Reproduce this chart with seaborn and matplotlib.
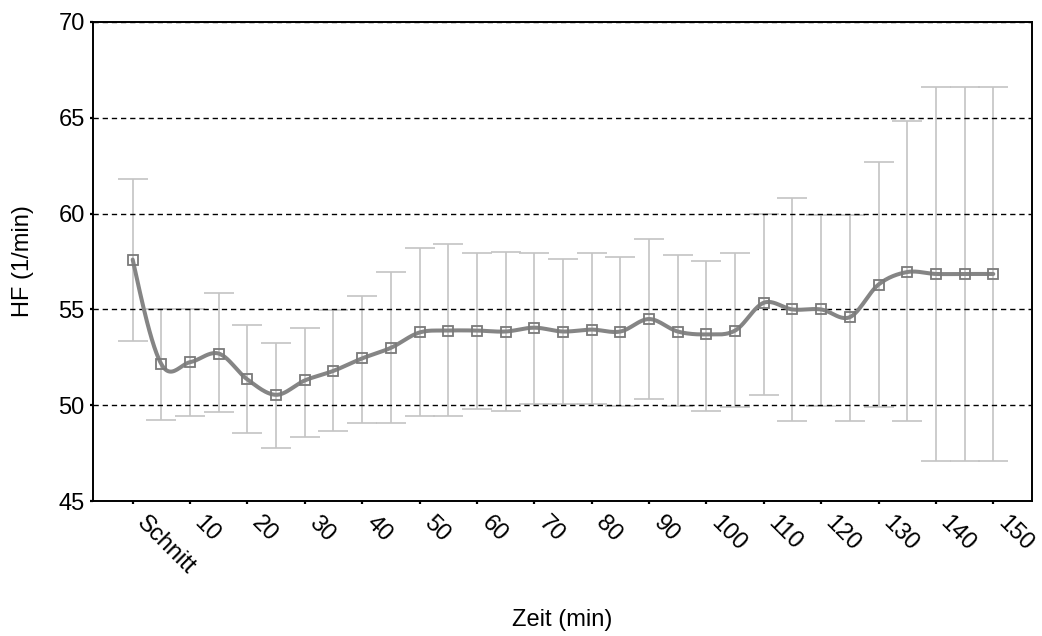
import numpy as np
import pandas as pd
import matplotlib
matplotlib.use("Agg")
import matplotlib.pyplot as plt
import seaborn as sns

# ---------------- data ----------------
time_min = [0, 5, 10, 15, 20, 25, 30, 35, 40, 45, 50, 55, 60, 65, 70, 75,
            80, 85, 90, 95, 100, 105, 110, 115, 120, 125, 130, 135, 140, 145, 150]
tick_positions = [0, 10, 20, 30, 40, 50, 60, 70, 80, 90, 100, 110, 120, 130, 140, 150]
tick_labels = ["Schnitt", "10", "20", "30", "40", "50", "60", "70", "80", "90",
               "100", "110", "120", "130", "140", "150"]
hf_mean = [57.6, 52.15, 52.25, 52.7, 51.35, 50.55, 51.3, 51.8, 52.45, 53.0,
           53.8, 53.9, 53.9, 53.85, 54.05, 53.85, 53.95, 53.85, 54.5, 53.85,
           53.7, 53.9, 55.35, 55.0, 55.0, 54.6, 56.3, 56.95, 56.85, 56.85, 56.85]
hf_upper = [61.8, 55.0, 55.0, 55.85, 54.2, 53.25, 54.05, 54.95, 55.7, 56.95,
            58.2, 58.4, 57.95, 58.0, 57.95, 57.65, 57.95, 57.75, 58.65, 57.85,
            57.55, 57.95, 60.0, 60.8, 59.9, 59.9, 62.7, 64.8, 66.6, 66.6, 66.6]
hf_lower = [53.35, 49.25, 49.45, 49.65, 48.55, 47.8, 48.35, 48.65, 49.1, 49.1,
            49.45, 49.45, 49.8, 49.7, 50.05, 50.05, 50.05, 49.95, 50.35, 49.95,
            49.7, 49.9, 50.55, 49.2, 49.95, 49.2, 49.9, 49.2, 47.1, 47.1, 47.1]
y_ticks = [45, 50, 55, 60, 65, 70]


def smooth_curve(xs, ys, n=24):
    """Catmull-Rom (cardinal) spline rendering of the data line."""
    xs = np.asarray(xs, float)
    ys = np.asarray(ys, float)
    k = len(ys)
    m = np.zeros(k)
    m[1:-1] = (ys[2:] - ys[:-2]) / 2.0
    m[0] = (3 * (ys[1] - ys[0]) - m[1]) / 2.0
    m[-1] = (3 * (ys[-1] - ys[-2]) - m[-2]) / 2.0
    out_x, out_y = [], []
    t = np.linspace(0, 1, n, endpoint=False)
    h00 = 2 * t**3 - 3 * t**2 + 1
    h10 = t**3 - 2 * t**2 + t
    h01 = -2 * t**3 + 3 * t**2
    h11 = t**3 - t**2
    for i in range(k - 1):
        out_x.append(xs[i] + t * (xs[i + 1] - xs[i]))
        out_y.append(h00 * ys[i] + h10 * m[i] + h01 * ys[i + 1] + h11 * m[i + 1])
    out_x.append([xs[-1]])
    out_y.append([ys[-1]])
    return np.concatenate(out_x), np.concatenate(out_y)


# ---------------- style ----------------
sns.set_theme(style="ticks")
plt.rcParams["font.family"] = ["Liberation Sans", "DejaVu Sans"]

fig = plt.figure(figsize=(10.42, 6.36), dpi=100)
fig.patch.set_facecolor("white")
ax = fig.add_axes([0.0895, 0.2118, 0.9006, 0.7541])
ax.set_facecolor("white")

df = pd.DataFrame({"t": time_min, "hf": hf_mean, "lo": hf_lower, "hi": hf_upper})

# error bars
ax.errorbar(df["t"], df["hf"], yerr=[df["hf"] - df["lo"], df["hi"] - df["hf"]],
            fmt="none", ecolor="#c4c4c4", elinewidth=1.2, capsize=10.8,
            capthick=1.2, zorder=1)

# horizontal dashed grid
ax.yaxis.grid(True, color="black", linestyle=(0, (3.8, 2.8)), linewidth=1.0, zorder=2)
ax.xaxis.grid(False)
ax.set_axisbelow(False)

# smoothed mean line
sx, sy = smooth_curve(time_min, hf_mean)
sns.lineplot(x=sx, y=sy, sort=False, estimator=None, color="#858585",
             linewidth=2.9, ax=ax, zorder=3)

# square markers
sns.lineplot(x=df["t"], y=df["hf"], estimator=None, linestyle="", marker="s",
             markersize=7.5, markerfacecolor="none", markeredgecolor="#7a7a7a",
             markeredgewidth=1.3, ax=ax, zorder=4)

# axes
ax.set_xlim(-6.87, 156.69)
ax.set_ylim(45, 70)
ax.set_yticks(y_ticks)
ax.set_yticklabels([str(v) for v in y_ticks])
ax.set_xticks(tick_positions)
ax.set_xticklabels(tick_labels, rotation=-45, ha="left", va="top")

for side in ["left", "right", "top", "bottom"]:
    ax.spines[side].set_visible(True)
    ax.spines[side].set_color("black")
    ax.spines[side].set_linewidth(1.4)
    ax.spines[side].set_zorder(5)

ax.tick_params(axis="both", direction="out", length=2.2, width=1.6,
               color="black", labelcolor="black", labelsize=17)
ax.tick_params(axis="y", pad=4)
ax.tick_params(axis="x", pad=5.5)

ax.set_xlabel("Zeit (min)", fontsize=17, color="black", va="center")
ax.xaxis.set_label_coords(0.5, -0.2475)
ax.set_ylabel("HF (1/min)", fontsize=17, color="black", va="center")
ax.yaxis.set_label_coords(-0.0746, 0.5)

leg = ax.get_legend()
if leg is not None:
    leg.remove()

fig.savefig("out.png", dpi=100, facecolor="white")
